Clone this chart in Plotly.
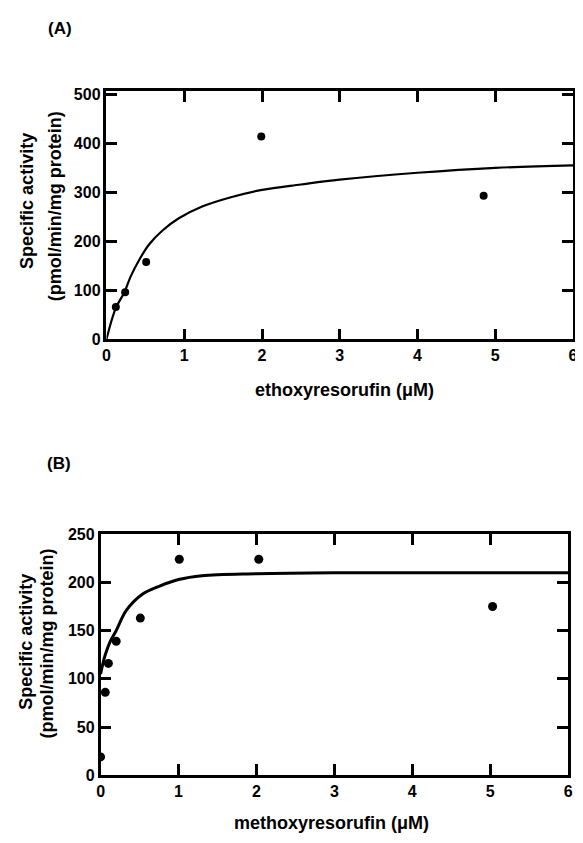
import plotly.graph_objects as go

# page body has an 8px margin; offset the figure so it lines up with the window
OFF = 8
W, H = 583 - OFF, 843 - OFF

# Panel A: ethoxyresorufin
a_conc = [0.12, 0.24, 0.51, 1.99, 4.85]
a_act = [66, 96, 158, 414, 293]
a_fit_x = [0, 0.12, 0.23, 0.31, 0.42, 0.55, 0.72, 0.93, 1.23, 1.6, 2.0, 2.5, 3.0, 4.0, 5.0, 6.0]
a_fit_y = [0, 64, 96, 128, 162, 194, 222, 247, 271, 290, 305, 316, 326, 340, 350, 355]

# Panel B: methoxyresorufin
b_conc = [0.0, 0.06, 0.1, 0.2, 0.51, 1.01, 2.03, 5.03]
b_act = [19, 86, 116, 139, 163, 224, 224, 175]
b_fit_x = [0, 0.03, 0.06, 0.12, 0.2, 0.33, 0.54, 0.75, 1.0, 1.3, 2.0, 3.0, 4.0, 6.0]
b_fit_y = [105, 116, 125, 138, 150, 171, 188, 196, 203, 207, 209, 210, 210, 210]

a_xticks = [0, 1, 2, 3, 4, 5, 6]
a_yticks = [0, 100, 200, 300, 400, 500]
b_xticks = [0, 1, 2, 3, 4, 5, 6]
b_yticks = [0, 50, 100, 150, 200, 250]

FONT = "Liberation Sans"

def px_x(p):
    return min(max((p - OFF) / W, 0), 1)

def px_y(p):
    return min(max(1 - (p - OFF) / H, 0), 1)

fig = go.Figure()
fig.add_trace(go.Scatter(x=a_fit_x, y=a_fit_y, mode="lines", line=dict(color="black", width=2.2, shape="spline"),
                         xaxis="x", yaxis="y", showlegend=False))
fig.add_trace(go.Scatter(x=a_conc, y=a_act, mode="markers", marker=dict(color="black", size=8),
                         xaxis="x", yaxis="y", showlegend=False))
fig.add_trace(go.Scatter(x=b_fit_x, y=b_fit_y, mode="lines", line=dict(color="black", width=3, shape="spline"),
                         xaxis="x2", yaxis="y2", showlegend=False))
fig.add_trace(go.Scatter(x=b_conc, y=b_act, mode="markers", marker=dict(color="black", size=9),
                         xaxis="x2", yaxis="y2", showlegend=False))

axis_common = dict(showline=True, linecolor="black", linewidth=2.5, mirror="ticks",
                   ticks="inside", ticklen=11, tickwidth=2.5, tickcolor="black",
                   showgrid=False, zeroline=False,
                   tickfont=dict(family=FONT, size=16, color="black", weight="bold"))

fig.update_layout(
    width=W, height=H, margin=dict(l=0, r=0, t=0, b=0),
    paper_bgcolor="white", plot_bgcolor="white",
    xaxis=dict(domain=[px_x(104), px_x(578)], range=[0, 6], tickvals=a_xticks, anchor="y", **axis_common),
    yaxis=dict(domain=[px_y(338), px_y(85)], range=[0, 506], tickvals=a_yticks, anchor="x", **axis_common),
    xaxis2=dict(domain=[px_x(98), px_x(573)], range=[0, 6], tickvals=b_xticks, anchor="y2", **axis_common),
    yaxis2=dict(domain=[px_y(783), px_y(537)], range=[0, 250], tickvals=b_yticks, anchor="x2", **axis_common),
)

def ann(text, x, y, size=18, angle=0):
    fig.add_annotation(text=text, x=px_x(x), y=px_y(y), xref="paper", yref="paper",
                       showarrow=False, textangle=angle, xanchor="center", yanchor="middle",
                       font=dict(family=FONT, size=size, color="black", weight="bold"))

ann("(A)", 57, 21, size=17)
ann("(B)", 56, 465, size=17)
ann("Specific activity", 23, 197, angle=-90)
ann("(pmol/min/mg protein)", 52, 202, angle=-90)
ann("Specific activity", 22, 647, angle=-90)
ann("(pmol/min/mg protein)", 44, 648, angle=-90)
ann("ethoxyresorufin (\u03bcM)", 346, 390)
ann("methoxyresorufin (\u03bcM)", 333, 832)

fig.write_html("out.html")
